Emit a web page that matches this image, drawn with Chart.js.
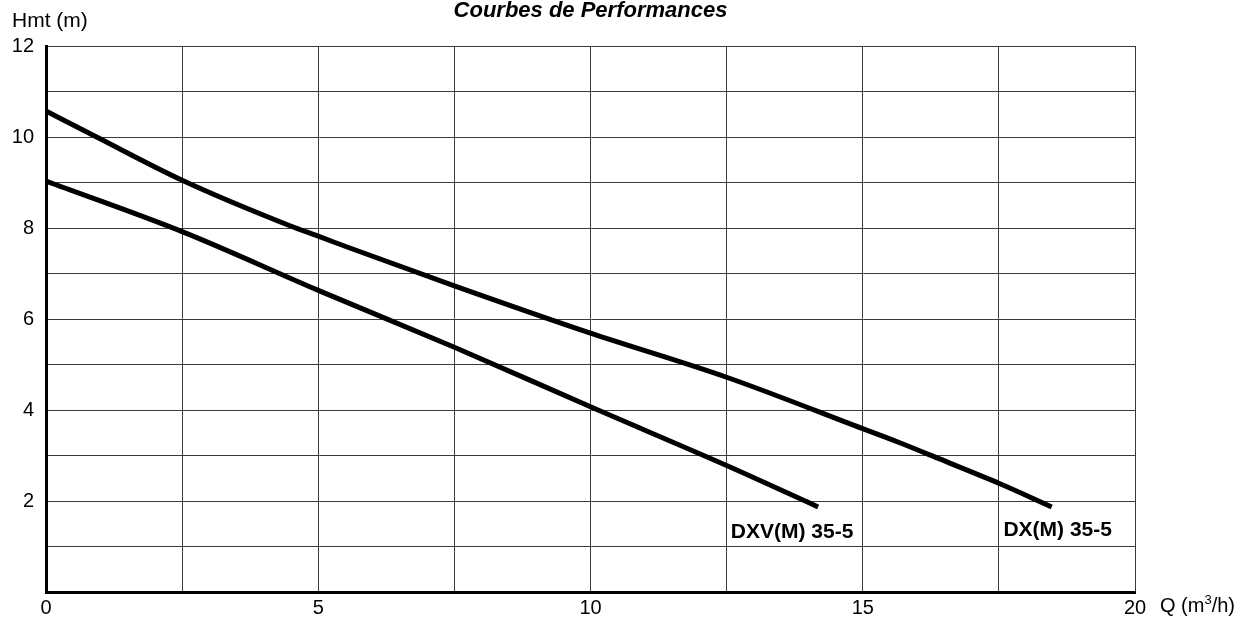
<!DOCTYPE html>
<html>
<head>
<meta charset="utf-8">
<script src="https://cdn.jsdelivr.net/npm/chart.js@4.4.0/dist/chart.umd.min.js"></script>
<style>
  html, body { margin: 0; padding: 0; background: #fff; }
  #wrap { width: 1239px; height: 618px; }
</style>
</head>
<body>
<div id="wrap"><canvas id="c" width="1239" height="618"></canvas></div>
<script>
// Data
const qDX  = [0, 0.93, 2.5, 4.48, 5, 5.58, 7.5, 10, 12.5, 15, 15.68, 16.4, 17.5, 18.47];
const hDX  = [10.57, 10.0, 9.05, 8.05, 7.82, 7.56, 6.73, 5.69, 4.72, 3.59, 3.28, 2.93, 2.39, 1.87];
const qDXV = [0, 2.5, 5, 7.5, 10, 12.5, 14.18];
const hDXV = [9.03, 7.92, 6.63, 5.38, 4.07, 2.78, 1.87];
const seriesNames = ['DX(M) 35-5', 'DXV(M) 35-5'];
const xTickLabels = [0, 5, 10, 15, 20];
const yTickLabels = [2, 4, 6, 8, 10, 12];
const titleText = 'Courbes de Performances';
const yTitle = 'Hmt (m)';
const xTitle = 'Q (m';
const FONT = "'Liberation Sans', Arial, sans-serif";

const toPts = (xs, ys) => xs.map((x, i) => ({ x: x, y: ys[i] }));

const textPlugin = {
  id: 'texts',
  afterDraw(chart) {
    const ctx = chart.ctx;
    const xs = chart.scales.x, ys = chart.scales.y;
    const area = chart.chartArea;
    ctx.save();
    ctx.fillStyle = '#000';
    // Title
    ctx.font = 'italic bold 22px ' + FONT;
    ctx.textAlign = 'center';
    ctx.textBaseline = 'alphabetic';
    ctx.fillText(titleText, (area.left + area.right) / 2, 17);
    // Y axis title
    ctx.font = '21px ' + FONT;
    ctx.textAlign = 'left';
    ctx.fillText(yTitle, 12, 27);
    // X axis title with superscript
    ctx.font = '20px ' + FONT;
    const bx = 1160, by = 612;
    ctx.fillText(xTitle, bx, by);
    let w = ctx.measureText(xTitle).width;
    ctx.font = '13px ' + FONT;
    ctx.fillText('3', bx + w, by - 8);
    let w2 = ctx.measureText('3').width;
    ctx.font = '20px ' + FONT;
    ctx.fillText('/h)', bx + w + w2, by);
    // Curve labels, anchored at each curve end point
    ctx.font = 'bold 21px ' + FONT;
    const dxv = chart.data.datasets[1].data;
    const e1 = dxv[dxv.length - 1];
    ctx.textAlign = 'center';
    ctx.fillText(seriesNames[1], xs.getPixelForValue(e1.x) - 26, ys.getPixelForValue(e1.y) + 31);
    const dx = chart.data.datasets[0].data;
    const e0 = dx[dx.length - 1];
    ctx.fillText(seriesNames[0], xs.getPixelForValue(e0.x) + 6, ys.getPixelForValue(e0.y) + 29);
    ctx.restore();
  }
};

new Chart(document.getElementById('c'), {
  type: 'line',
  data: {
    datasets: [
      { label: seriesNames[0], data: toPts(qDX, hDX), borderColor: '#000', borderWidth: 5, pointRadius: 0, fill: false, cubicInterpolationMode: 'monotone' },
      { label: seriesNames[1], data: toPts(qDXV, hDXV), borderColor: '#000', borderWidth: 5, pointRadius: 0, fill: false, cubicInterpolationMode: 'monotone' }
    ]
  },
  options: {
    responsive: false,
    animation: false,
    devicePixelRatio: 1,
    layout: { padding: { top: 46, right: 104, left: 0, bottom: 0 } },
    plugins: { legend: { display: false }, title: { display: false }, tooltip: { enabled: false } },
    scales: {
      x: {
        type: 'linear', min: 0, max: 20,
        afterFit(s) { s.height = 26; },
        ticks: {
          stepSize: 2.5, autoSkip: false, maxRotation: 0, padding: 4, color: '#000',
          font: { family: FONT, size: 20 },
          callback: (v) => xTickLabels.includes(v) ? String(v) : ''
        },
        grid: { color: '#3a3a3a', lineWidth: 1, drawTicks: false },
        border: { color: '#000', width: 3 }
      },
      y: {
        type: 'linear', min: 0, max: 12,
        afterFit(s) { s.width = 46; },
        ticks: {
          stepSize: 1, autoSkip: false, padding: 12, color: '#000',
          font: { family: FONT, size: 20 },
          callback: (v) => yTickLabels.includes(v) ? String(v) : ''
        },
        grid: { color: '#3a3a3a', lineWidth: 1, drawTicks: false },
        border: { color: '#000', width: 3 }
      }
    }
  },
  plugins: [textPlugin]
});
</script>
</body>
</html>
